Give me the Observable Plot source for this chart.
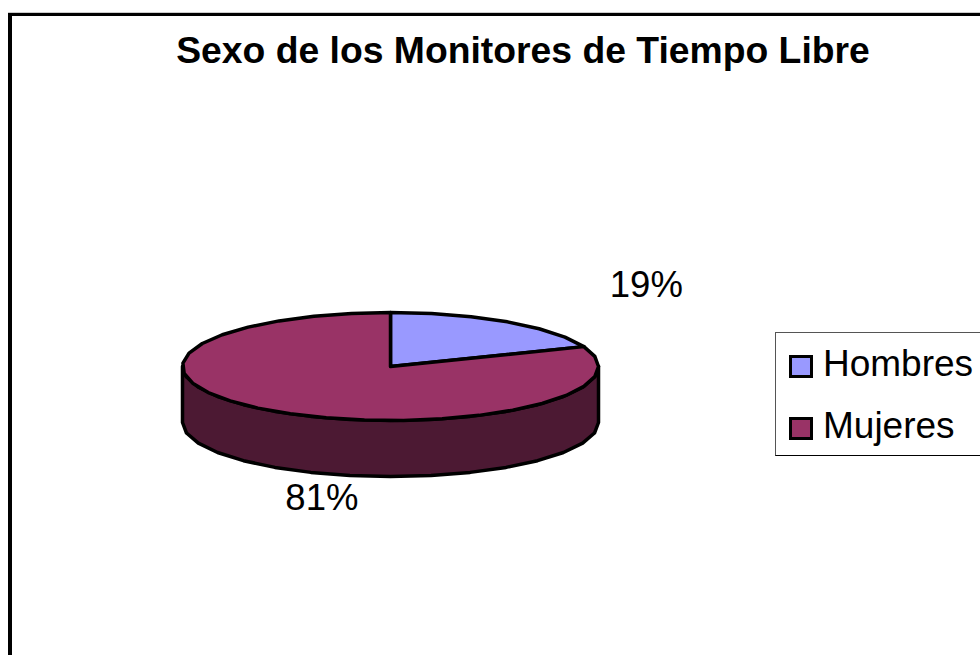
<!DOCTYPE html>
<html lang="es">
<head>
<meta charset="utf-8">
<script src="https://cdn.jsdelivr.net/npm/d3@7"></script>
<script src="https://cdn.jsdelivr.net/npm/@observablehq/plot@0.6"></script>
<style>
html,body{margin:0;padding:0;background:#fff;overflow:hidden}
body{width:980px;height:655px;position:relative;font-family:"Liberation Sans",Arial,sans-serif;color:#000}
#chart{position:absolute;left:0;top:0}
#frame{position:absolute;left:8px;top:13px;width:1000px;height:700px;border-left:4px solid #000;border-top:3px solid #000;box-sizing:border-box;box-shadow:0 -1px 0 #ccc}
#title{position:absolute;left:0;top:29px;width:1046px;text-align:center;font-weight:bold;font-size:37.3px;line-height:42px;white-space:nowrap}
#legend{position:absolute;left:775px;top:332px;width:240px;height:124px;border:1px solid #000;border-left-color:#555;border-top-color:#555;box-sizing:border-box}
.item{position:absolute;left:13px;font-size:37px;line-height:40px;white-space:nowrap}
.sw{position:absolute;left:0;top:11px;width:24px;height:23px;border:3px solid #000;box-sizing:border-box}
.lab{position:absolute;left:34px;top:0}
</style>
</head>
<body>
<div id="frame"></div>
<div id="chart"></div>
<div id="title"></div>
<div id="legend"></div>
<script>
const titleText = "Sexo de los Monitores de Tiempo Libre";
const categories = ["Hombres", "Mujeres"];
const shares = [19, 81];
const sliceColors = ["#9999ff", "#993366"];
const wallColor = "#4c1933";

const depth = 56 / 54;
const polar = (deg, dy = 0) => {
  const t = deg * Math.PI / 180;
  return {x: Math.sin(t), y: Math.cos(t) - dy};
};
const arc = (a0, a1, dy = 0) => {
  const n = Math.max(1, Math.round(Math.abs(a1 - a0) / 11));
  return d3.range(n + 1).map(i => polar(a0 + (a1 - a0) * i / n, dy));
};

let start = 0;
const slices = categories.map((name, i) => {
  const a0 = start, a1 = start + shares[i] * 3.6;
  start = a1;
  return {name, a0, a1, color: sliceColors[i]};
});

const shapes = [];
const add = (id, color, pts) => pts.concat(pts[0]).forEach(p => shapes.push({...p, id, color}));
add("wall", wallColor, [...arc(90, 270), ...arc(270, 90, depth)]);
slices.forEach(s => add(s.name, s.color, [{x: 0, y: 0}, ...arc(s.a0, s.a1)]));

const labels = [
  {x: 1.23, y: 1.50, text: shares[0] + "%"},
  {x: -0.33, y: -2.45, text: shares[1] + "%"}
];

const plot = Plot.plot({
  width: 980,
  height: 655,
  margin: 0,
  style: {background: "transparent", overflow: "visible"},
  x: {domain: [-1, 1], range: [182, 598], axis: null},
  y: {domain: [-1, 1], range: [420, 312], axis: null},
  marks: [
    Plot.line(shapes, {x: "x", y: "y", z: "id", fill: d => d.color, stroke: "#000", strokeWidth: 3.5, strokeLinejoin: "round", curve: "linear"}),
    Plot.text(labels, {x: "x", y: "y", text: "text", fontSize: 36.5, fill: "#000", fontFamily: "Liberation Sans"})
  ]
});
document.getElementById("chart").append(plot);
document.getElementById("title").textContent = titleText;
const legend = document.getElementById("legend");
categories.forEach((c, i) => {
  const item = document.createElement("div");
  item.className = "item";
  item.style.top = (11 + i * 62) + "px";
  const sw = document.createElement("div");
  sw.className = "sw";
  sw.style.background = sliceColors[i];
  const lab = document.createElement("div");
  lab.className = "lab";
  lab.textContent = c;
  item.append(sw, lab);
  legend.append(item);
});
</script>
</body>
</html>
